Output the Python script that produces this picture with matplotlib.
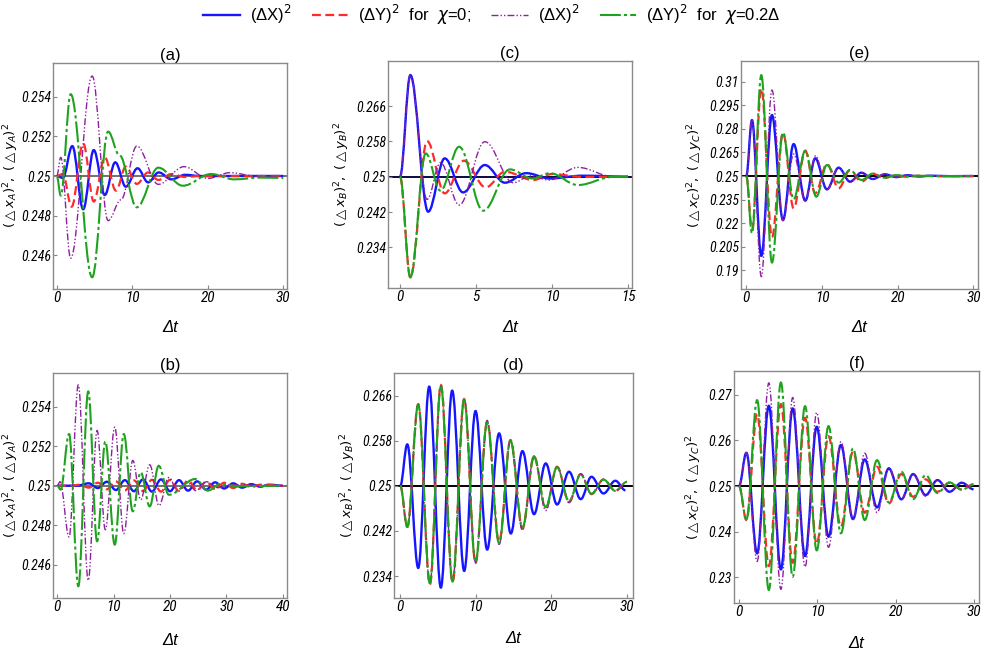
import numpy as np
import matplotlib
matplotlib.use("Agg")
import matplotlib.pyplot as plt
from matplotlib import font_manager
from matplotlib.path import Path
from matplotlib.patches import PathPatch
from matplotlib.lines import Line2D

plt.rcParams["font.family"] = ["Liberation Sans", "DejaVu Sans"]
plt.rcParams["mathtext.fontset"] = "dejavusans"

# narrow face for tick labels if one is installed
_names = {f.name for f in font_manager.fontManager.ttflist}
TICK_FONT, TICK_SIZE = "Liberation Sans", 9
for cand in ["Liberation Sans Narrow", "DejaVu Sans Condensed", "Roboto Condensed", "Open Sans Condensed"]:
    if cand in _names:
        TICK_FONT, TICK_SIZE = cand, 10
        break

# ---------------- data (extrema of each curve) ----------------
# panel (a)
a_blue_t = [0, 0.8, 2.06, 3.5, 4.9, 6.35, 7.75, 9.15, 10.7, 12.1, 13.5, 15.2, 17.0, 19.0, 30.0]
a_blue_v = [0.25, 0.2499, 0.25151, 0.24832, 0.25131, 0.24904, 0.25069, 0.24946, 0.25039, 0.24968, 0.25018, 0.24983, 0.25006, 0.25, 0.25]
a_red_t = [0, 0.8, 1.97, 3.5, 4.9, 6.35, 7.84, 9.15, 10.6, 12.1, 13.45, 15.2, 17.0, 19.0, 30.0]
a_red_v = [0.25, 0.2501, 0.24845, 0.25165, 0.24871, 0.25094, 0.24926, 0.25047, 0.2496, 0.25018, 0.2498, 0.2501, 0.24995, 0.25, 0.25]
a_purple_t = [0, 0.53, 1.84, 4.69, 6.8, 8.5, 10.6, 13.45, 16.85, 20.0, 23.0, 26.5, 30.0]
a_purple_v = [0.25, 0.25094, 0.24585, 0.25504, 0.24775, 0.2488, 0.25151, 0.24958, 0.25047, 0.24988, 0.25017, 0.24998, 0.25]
a_green_t = [0, 0.53, 1.84, 4.69, 6.8, 8.3, 10.6, 13.45, 16.7, 20.45, 23.5, 27.0, 30.0]
a_green_v = [0.25, 0.24901, 0.25413, 0.24489, 0.25224, 0.25105, 0.24842, 0.25042, 0.24951, 0.2501, 0.24983, 0.24992, 0.2499]

# panel (b)
b_blue_t = [0, 3.5, 5.6, 7.2, 8.8, 10.4, 12.0, 13.6, 15.2, 16.8, 18.4, 20.0, 21.6, 23.2, 24.8, 26.4, 28.0, 29.6, 31.2, 32.8, 34.4, 36.0, 37.6, 40.0]
b_blue_v = [0.25, 0.25, 0.25012, 0.24988, 0.2502, 0.24978, 0.25028, 0.24972, 0.25032, 0.2497, 0.25032, 0.24972, 0.25028, 0.24975, 0.25022, 0.2498, 0.25017, 0.24986, 0.25012, 0.2499, 0.25008, 0.24995, 0.25005, 0.25]
b_red_t = [0, 2.5, 4.0, 5.6, 7.2, 8.8, 10.4, 12.0, 13.6, 15.2, 16.8, 18.4, 20.0, 21.6, 23.2, 24.8, 26.4, 28.0, 29.6, 31.2, 32.8, 34.4, 36.0, 40.0]
b_red_v = [0.25, 0.25, 0.25005, 0.2499, 0.25015, 0.24982, 0.25022, 0.24976, 0.25027, 0.24973, 0.2503, 0.2497, 0.2503, 0.24972, 0.25027, 0.24977, 0.2502, 0.24983, 0.25015, 0.24988, 0.2501, 0.24993, 0.25005, 0.25]
b_purple_t = [0, 0.5, 2.1, 3.74, 5.5, 7.07, 8.53, 10.2, 11.8, 13.4, 14.8, 16.4, 18.05, 19.8, 21.4, 23.0, 24.6, 26.5, 28.5, 31.0, 40.0]
b_purple_v = [0.25, 0.2502, 0.2474, 0.25511, 0.2452, 0.2528, 0.24777, 0.25297, 0.24757, 0.25128, 0.24929, 0.25106, 0.24899, 0.25042, 0.2497, 0.2502, 0.24975, 0.2502, 0.2499, 0.25005, 0.25]
b_green_t = [0, 0.6, 2.1, 3.74, 5.5, 7.07, 8.53, 10.2, 11.8, 13.4, 14.8, 16.4, 18.0, 19.8, 24.5, 26.7, 29.0, 32.0, 40.0]
b_green_v = [0.25, 0.2498, 0.25262, 0.2449, 0.25478, 0.24718, 0.25224, 0.24701, 0.25262, 0.2487, 0.25068, 0.24895, 0.25101, 0.24954, 0.25034, 0.24975, 0.2501, 0.24997, 0.25]

# panel (c)
c_blue_t = [0, 0.68, 1.85, 2.94, 4.15, 5.58, 6.9, 8.3, 9.86, 12.0, 15.0]
c_blue_v = [0.25, 0.27302, 0.24208, 0.25415, 0.24645, 0.25264, 0.24864, 0.2508, 0.2496, 0.25023, 0.25]
c_red_t = [0, 0.68, 1.78, 2.94, 4.19, 5.64, 6.9, 8.76, 10.0, 12.0, 15.0]
c_red_v = [0.25, 0.22721, 0.25808, 0.24623, 0.25362, 0.24758, 0.25113, 0.24925, 0.2506, 0.24995, 0.25]
c_purple_t = [0, 0.68, 1.78, 2.66, 3.89, 5.58, 7.45, 8.6, 9.8, 11.7, 14.0, 15.0]
c_purple_v = [0.25, 0.27302, 0.24487, 0.25317, 0.24358, 0.25792, 0.24864, 0.2502, 0.24925, 0.25211, 0.25005, 0.25]
c_green_t = [0, 0.68, 1.69, 2.66, 3.89, 5.47, 7.23, 8.7, 9.86, 11.7, 14.0, 15.0]
c_green_v = [0.25, 0.22721, 0.25528, 0.24683, 0.25679, 0.2423, 0.25166, 0.2496, 0.2508, 0.24811, 0.24995, 0.25]

# panel (d)
d_blue_t = [0, 0.93, 2.38, 3.83, 5.37, 6.87, 8.46, 9.96, 11.5, 13.08, 14.63, 16.17, 17.7, 19.25, 20.75, 22.33, 23.88, 25.3, 26.9, 28.46, 29.8]
d_blue_v = [0.25, 0.25735, 0.23542, 0.2676, 0.23193, 0.26689, 0.23489, 0.26327, 0.23868, 0.2593, 0.24153, 0.25616, 0.24496, 0.25397, 0.24668, 0.25249, 0.24763, 0.2516, 0.24864, 0.25089, 0.2492]
d_red_t = [0, 0.93, 2.38, 3.92, 5.37, 6.92, 8.46, 9.96, 11.5, 13.08, 14.58, 16.17, 17.7, 19.25, 20.75, 22.33, 23.88, 25.3, 26.9, 28.46, 30.0]
d_red_v = [0.25, 0.24271, 0.26446, 0.23252, 0.2679, 0.23293, 0.26541, 0.23631, 0.26138, 0.24004, 0.25812, 0.24241, 0.25527, 0.24597, 0.25338, 0.24716, 0.25207, 0.24852, 0.25113, 0.24911, 0.2507]
d_purple_t = [0, 0.93, 2.38, 3.92, 5.37, 6.92, 8.46, 9.96, 11.5, 13.08, 14.58, 16.17, 17.7, 19.25, 20.75, 22.33, 23.88, 25.3, 26.9, 28.46, 30.0]
d_purple_v = [0.25, 0.2427, 0.2645, 0.2326, 0.2678, 0.2331, 0.2655, 0.2364, 0.2616, 0.2396, 0.2582, 0.2421, 0.2553, 0.2456, 0.2534, 0.247, 0.2521, 0.2485, 0.2511, 0.2491, 0.2507]
d_green_t = [0, 0.93, 2.38, 3.92, 5.37, 6.92, 8.46, 9.96, 11.5, 13.08, 14.58, 16.17, 17.7, 19.25, 20.75, 22.33, 23.88, 25.3, 26.9, 28.46, 30.0]
d_green_v = [0.25, 0.2427, 0.2644, 0.2327, 0.2678, 0.233, 0.2653, 0.2365, 0.2612, 0.2398, 0.258, 0.2426, 0.2551, 0.2462, 0.2533, 0.2473, 0.252, 0.2486, 0.2511, 0.2491, 0.2507]

# panel (e)
e_blue_t = [0, 0.75, 1.98, 3.39, 4.84, 6.25, 7.79, 9.1, 10.65, 12.19, 13.7, 15.2, 16.7, 18.3, 19.8, 21.3, 22.8, 24.4, 27.0, 30.0]
e_blue_v = [0.25, 0.28562, 0.19912, 0.2888, 0.22202, 0.27035, 0.23431, 0.26124, 0.24152, 0.2553, 0.2464, 0.2521, 0.2481, 0.2511, 0.2493, 0.2505, 0.2497, 0.2502, 0.2499, 0.25]
e_red_t = [0, 0.75, 1.98, 3.39, 4.84, 6.25, 7.79, 9.1, 10.65, 12.19, 13.7, 15.2, 16.7, 18.2, 19.7, 21.2, 22.7, 25.0, 30.0]
e_red_v = [0.25, 0.21566, 0.30576, 0.21099, 0.27756, 0.22944, 0.26611, 0.23898, 0.25763, 0.24216, 0.2538, 0.2464, 0.2515, 0.2487, 0.2505, 0.2495, 0.2502, 0.2499, 0.25]
e_purple_t = [0, 0.75, 1.98, 3.39, 4.84, 6.25, 7.79, 9.15, 10.65, 12.19, 13.7, 15.2, 16.7, 18.3, 19.8, 21.3, 22.8, 25.0, 30.0]
e_purple_v = [0.25, 0.2856, 0.18598, 0.3047, 0.2215, 0.264, 0.234, 0.2629, 0.2412, 0.2555, 0.246, 0.2522, 0.248, 0.2512, 0.2493, 0.2505, 0.2497, 0.2502, 0.25]
e_green_t = [0, 0.75, 1.98, 3.39, 4.84, 6.25, 7.79, 9.24, 10.65, 12.19, 13.7, 15.2, 16.7, 18.3, 19.8, 21.3, 22.8, 25.0, 30.0]
e_green_v = [0.25, 0.21354, 0.31424, 0.19488, 0.27756, 0.23516, 0.26611, 0.23686, 0.257, 0.2458, 0.2538, 0.2475, 0.2515, 0.2489, 0.2506, 0.2496, 0.2502, 0.2499, 0.25]

# panel (f)
f_t = [0, 0.94, 2.31, 3.8, 5.34, 6.84, 8.42, 9.91, 11.41, 12.99, 14.53, 16.03, 17.6, 19.1, 20.7, 22.2, 23.8, 25.3, 26.84, 28.4, 29.9]
f_blue_v = [0.25, 0.2573, 0.23526, 0.26759, 0.23175, 0.26701, 0.23467, 0.26299, 0.23891, 0.25898, 0.24277, 0.25584, 0.24533, 0.25387, 0.2471, 0.25263, 0.24803, 0.25131, 0.24876, 0.25073, 0.2493]
f_red_v = [0.25, 0.24255, 0.26577, 0.23248, 0.26796, 0.23321, 0.26496, 0.2373, 0.26095, 0.24109, 0.25752, 0.24416, 0.25423, 0.2462, 0.25263, 0.24766, 0.25146, 0.24876, 0.25073, 0.24927, 0.2504]
f_purple_v = [0.25, 0.2573, 0.2335, 0.2726, 0.2274, 0.2694, 0.2323, 0.2661, 0.2366, 0.2597, 0.2428, 0.2572, 0.2442, 0.254, 0.2471, 0.2526, 0.2478, 0.2513, 0.2488, 0.2507, 0.2494]
f_green_v = [0.25, 0.2427, 0.26883, 0.22723, 0.2727, 0.23015, 0.26752, 0.2359, 0.26314, 0.23964, 0.25825, 0.24255, 0.25569, 0.2464, 0.25314, 0.24715, 0.25241, 0.2485, 0.2508, 0.2492, 0.2503]

legend_labels = ["(ΔX)$^2$", "(ΔY)$^2$  for  $\\chi$=0;", "(ΔX)$^2$", "(ΔY)$^2$  for  $\\chi$=0.2Δ"]

# ---------------- styles ----------------
STYLES = [
    dict(color="#1515ff", lw=1.7, dashes=None),
    dict(color="#ff2a2a", lw=1.6, dashes=(4, 2)),
    dict(color="#8e1f9e", lw=1.0, dashes=(5, 1.5, 1, 1.5, 1, 1.5)),
    dict(color="#1fa31f", lw=1.5, dashes=(10, 1.5, 1.5, 1.5)),
]
K = 1 - 2 / np.pi  # bezier handle so a half swing looks like a cosine


def wave(ax, ts, vs, style):
    # smooth curve through the extrema, drawn as matplotlib bezier segments
    verts = [(ts[0], vs[0])]
    codes = [Path.MOVETO]
    for i in range(1, len(ts)):
        dt = ts[i] - ts[i - 1]
        verts += [(ts[i - 1] + K * dt, vs[i - 1]), (ts[i] - K * dt, vs[i]), (ts[i], vs[i])]
        codes += [Path.CURVE4] * 3
    ls = "-" if style["dashes"] is None else (0, style["dashes"])
    ax.add_patch(PathPatch(Path(verts, codes), fill=False, edgecolor=style["color"],
                           lw=style["lw"], linestyle=ls, capstyle="butt",
                           joinstyle="round", transform=ax.transData))


fig = plt.figure(figsize=(9.81, 6.54), dpi=100)
W, H = 981, 654


def make_ax(l, r, t, b):
    return fig.add_axes([l / W, 1 - b / H, (r - l) / W, (b - t) / H])


panels = [
    # title, box(l,r,t,b), xlim, ylim, xticks, yticks, sub, hline, ylab_x(px from spine), xlab_y, series
    ("(a)", (53, 287, 63, 289), (-0.5, 30.5), (0.2443, 0.2557), [0, 10, 20, 30],
     [0.246, 0.248, 0.25, 0.252, 0.254], "A", "#707070", -32, -0.137,
     [(a_blue_t, a_blue_v), (a_red_t, a_red_v), (a_purple_t, a_purple_v), (a_green_t, a_green_v)]),
    ("(b)", (53, 287, 373, 598), (-0.75, 40.75), (0.24431, 0.25571), [0, 10, 20, 30, 40],
     [0.246, 0.248, 0.25, 0.252, 0.254], "A", "#707070", -32, -0.156,
     [(b_blue_t, b_blue_v), (b_red_t, b_red_v), (b_purple_t, b_purple_v), (b_green_t, b_green_v)]),
    ("(c)", (388, 632, 61, 288), (-0.79, 15.26), (0.2248, 0.2762), [0, 5, 10, 15],
     [0.234, 0.242, 0.25, 0.258, 0.266], "B", "#0a0a40", -36, -0.141,
     [(c_blue_t, c_blue_v), (c_red_t, c_red_v), (c_purple_t, c_purple_v), (c_green_t, c_green_v)]),
    ("(d)", (394, 633, 373, 598), (-0.83, 30.8), (0.2301, 0.270), [0, 10, 20, 30],
     [0.234, 0.242, 0.25, 0.258, 0.266], "B", "black", -36, -0.147,
     [(d_blue_t, d_blue_v), (d_red_t, d_red_v), (d_purple_t, d_purple_v), (d_green_t, d_green_v)]),
    ("(e)", (741, 978, 61, 289), (-0.7, 30.6), (0.1781, 0.3232), [0, 10, 20, 30],
     [0.19, 0.205, 0.22, 0.235, 0.25, 0.265, 0.28, 0.295, 0.31], "C", "black", -36, -0.136,
     [(e_blue_t, e_blue_v), (e_red_t, e_red_v), (e_purple_t, e_purple_v), (e_green_t, e_green_v)]),
    ("(f)", (734, 979, 371, 603), (-0.64, 30.6), (0.2244, 0.2752), [0, 10, 20, 30],
     [0.23, 0.24, 0.25, 0.26, 0.27], "C", "black", -30, -0.142,
     [(f_t, f_blue_v), (f_t, f_red_v), (f_t, f_purple_v), (f_t, f_green_v)]),
]

for title, box, xlim, ylim, xt, yt, sub, hcol, ylx, xly, series in panels:
    ax = make_ax(*box)
    ax.axhline(0.25, color=hcol, lw=1.4, zorder=1)
    for (ts, vs), st in zip(series, STYLES):
        wave(ax, ts, vs, st)
    ax.set_xlim(*xlim)
    ax.set_ylim(*ylim)
    ax.set_xticks(xt)
    ax.set_xticklabels([str(v) for v in xt], fontsize=TICK_SIZE + 1, style="italic", family=TICK_FONT)
    ax.set_yticks(yt)
    ax.set_yticklabels([f"{v:g}" for v in yt], fontsize=TICK_SIZE, style="italic", family=TICK_FONT)
    ax.tick_params(direction="in", length=3, width=0.8, color="#888888", pad=1.5)
    for sp in ax.spines.values():
        sp.set_color("#8a8a8a")
        sp.set_linewidth(1.0)
    ax.set_title(title, fontsize=12, pad=2)
    ax.set_xlabel("Δt", fontsize=12, style="italic")
    ax.xaxis.set_label_coords(0.5, xly)
    ax.set_ylabel(rf"$(\triangle x_{sub})^2,\ (\triangle y_{sub})^2$", fontsize=9.5)
    ax.yaxis.set_label_coords(ylx / (box[1] - box[0]), 0.5)

handles = []
for st in STYLES:
    ls = "-" if st["dashes"] is None else (0, st["dashes"])
    handles.append(Line2D([], [], color=st["color"], lw=st["lw"], linestyle=ls))
fig.legend(handles, legend_labels, loc="center", bbox_to_anchor=(492 / W, 1 - 15 / H),
           ncol=4, frameon=False, fontsize=12, handlelength=2.2, columnspacing=1.2,
           handletextpad=0.6)

fig.savefig("out.png", dpi=100)
